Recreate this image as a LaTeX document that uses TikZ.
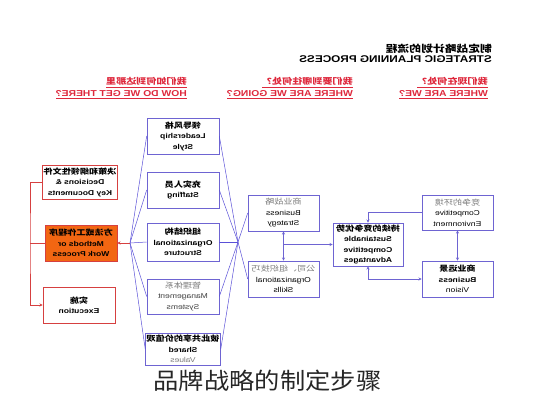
\documentclass[tikz,border=0pt]{standalone}
\usepackage{fontspec}
\setmainfont{Liberation Sans}[FakeStretch=1.2]
\newfontfamily\cjk{Noto Sans CJK SC}[FakeStretch=1.2]
\newfontfamily\capcjk{Noto Sans CJK SC}[FakeStretch=1.1]
\usetikzlibrary{arrows.meta}
\definecolor{hdrred}{RGB}{222,40,60}
\definecolor{boxred}{RGB}{214,64,64}
\definecolor{boxblue}{RGB}{110,100,210}
\definecolor{fanblue}{RGB}{90,80,215}
\definecolor{mthorange}{RGB}{242,102,18}
\definecolor{txtgray}{RGB}{125,125,125}
\newcommand{\zhs}[2]{{\fontsize{#1}{10.5}\selectfont\cjk #2}}
\newcommand{\zb}[1]{\zhs{7.6}{#1}}
\newcommand{\gr}[1]{{\mdseries\color{txtgray}#1}}
\tikzset{
  mirror/.style={xscale=-1},
  basebox/.style={mirror, draw, line width=0.6pt, fill=white, align=center,
    inner sep=1pt, text=black, font=\fontsize{7.1}{10.5}\selectfont},
  bluebox/.style={basebox, draw=boxblue, minimum width=72pt},
  redbox/.style={basebox, draw=boxred, minimum width=72pt},
  bold/.style={font=\bfseries\fontsize{7.1}{10.5}\selectfont},
  fanline/.style={draw=fanblue, line width=0.5pt},
  blueline/.style={draw=boxblue, line width=0.6pt},
  redline/.style={draw=boxred, line width=0.6pt},
  tip/.style={-{Stealth[length=3.2pt,width=3pt]}},
  tips/.style={{Stealth[length=3.2pt,width=3pt]}-{Stealth[length=3.2pt,width=3pt]}},
  header/.style={mirror, anchor=west, align=left, inner sep=0pt, text=hdrred,
    font=\bfseries\fontsize{8.6}{12}\selectfont},
}
\begin{document}
\begin{tikzpicture}[x=1pt,y=-1pt]
\useasboundingbox (0,0) rectangle (533,400);

% title
\node[mirror, anchor=west, align=left, inner sep=0pt,
  font=\bfseries\fontsize{9.8}{10.5}\selectfont] (title) at (492,53.5)
  {\zhs{9.8}{制定战略计划的流程}\\STRATEGIC PLANNING PROCESS};

% column headers
\node[header] (h1) at (488,88) {\underline{\zhs{8.4}{我们现在何处？}}\\\underline{WHERE ARE WE?}};
\node[header] (h2) at (353,88) {\underline{\zhs{8.4}{我们要到哪往何处？}}\\\underline{WHERE ARE WE GOING?}};
\node[header] (h3) at (187,88) {\underline{\zhs{8.4}{我们如何到达那里}}\\\underline{HOW DO WE GET THERE?}};

% left column (red)
\node[redbox, bold, minimum height=34pt] (dec) at (80,182) {\zb{决策和纲领性文件}\\Decisions \&\\Key Documents};
\node[redbox, bold, fill=mthorange, minimum height=36pt] (meth) at (81,243) {\zb{方法或工作程序}\\Methods or\\Work Process};
\node[redbox, bold, minimum height=36pt] (exec) at (79,305) {\zb{实施}\\Execution};

% second column (blue)
\node[bluebox, bold, minimum height=36pt] (lead) at (183,136) {\zb{领导风格}\\Leadership\\Style};
\node[bluebox, bold, minimum height=36pt] (staff) at (183,190) {\zb{充实人员}\\Staffing};
\node[bluebox, bold, minimum height=38pt] (org) at (183,242) {\zb{组织结构}\\Organizational\\Structure};
\node[bluebox, minimum height=35pt] (mgmt) at (183,296.5) {\gr{\zb{管理体系}}\\{\color{black!75}Management}\\{\color{black!75}Systems}};
\node[bluebox, bold, minimum height=32pt] (shared) at (183,349) {\zb{彼此共享的价值观}\\Shared\\\gr{Values}};

% third column
\node[bluebox, minimum width=71pt, minimum height=36pt] (bs) at (283.5,213) {\gr{\zb{商业战略}}\\Business\\Strategy};
\node[bluebox, minimum width=71pt, minimum height=36pt] (os) at (283.5,279) {\gr{\zb{公司、组织技巧}}\\Organizational\\Skills};
\node[bluebox, bold, minimum width=70pt, minimum height=43pt] (sca) at (368,244.5) {\zb{持续的竞争优势}\\Sustainable\\Competitive\\Advantages};
\node[bluebox, minimum width=71pt, minimum height=35pt] (ce) at (457.5,212.5) {\gr{\zb{竞争的环境}}\\Competitive\\Environment};
\node[bluebox, minimum width=71pt, minimum height=36pt] (bv) at (457.5,279) {{\bfseries\zb{商业远景}}\\{\bfseries Business}\\Vision};

% fan points (mirrored nodes: .east is the left side, .west the right side)
\coordinate (fanL) at (130,243);
\coordinate (fanR) at (238,242);
\coordinate (rx) at (30,243);

\foreach \n in {lead,staff,org,mgmt,shared} {
  \draw[fanline] (fanL) -- (\n.east);
  \draw[fanline] (\n.west) -- (fanR);
}
\draw[fanline] (fanR) -- (bs.east);
\draw[fanline] (fanR) -- (os.east);

% red connectors
\draw[redline, tip] (fanL) -- (meth.west);
\draw[redline, tip] (dec.east) -| (rx) |- (exec.east);
\draw[redline] (meth.east) -- (rx);

% right section connectors
\draw[blueline, tips] (bs.south) -- (os.north);
\draw[blueline, tip] (bs.south |- sca.east) -- (sca.east);
\draw[blueline, tip] (ce.east) -| (sca.north);
\draw[blueline, tips] (sca.south) |- (bv.east);
\draw[blueline, tips] (ce.south) -- (bv.north);

% caption
\node[font=\capcjk\fontsize{23}{23}\selectfont, text=black!85, inner sep=0pt] (cap) at (267.5,381) {品牌战略的制定步骤};
\end{tikzpicture}
\end{document}
